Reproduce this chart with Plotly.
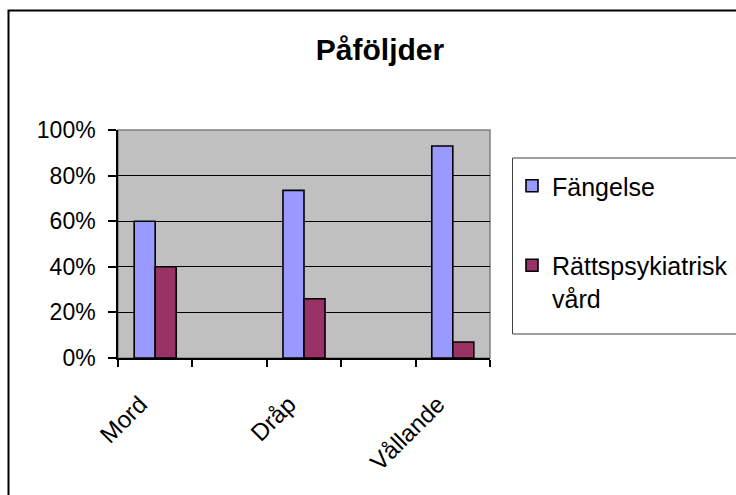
import plotly.graph_objects as go

# ---- data ----
categories = ["Mord", "Dråp", "Vållande"]
axis_categories = ["Mord", " ", "Dråp", "  ", "Vållande"]
fangelse = [0.60, 0.735, 0.93]
rattspsyk = [0.40, 0.26, 0.07]
series_names = ["Fängelse", "Rättspsykiatrisk<br>vård"]
y_ticks = [0, 0.2, 0.4, 0.6, 0.8, 1.0]

W, H = 736, 495
L, R, T, B = 118, 490, 130, 358  # plot area in px

def px(x):
    return (x - L) / (R - L)

def py(y):
    return (B - y) / (B - T)

FONT = "Liberation Sans, Arial, sans-serif"

fig = go.Figure()
fig.add_trace(go.Bar(
    x=categories, y=fangelse, name=series_names[0], legendgroup="a",
    marker=dict(color="#9999FF", line=dict(color="black", width=1.6)),
))
fig.add_trace(go.Bar(
    x=categories, y=rattspsyk, name=series_names[1], legendgroup="b",
    marker=dict(color="#993366", line=dict(color="black", width=1.6)),
))

shapes = [
    # plot area border (grey)
    dict(type="rect", xref="paper", yref="paper", x0=0, x1=1, y0=0, y1=1,
         line=dict(color="#808080", width=1.5), layer="below"),
    # chart area border (cropped)
    dict(type="path", xref="paper", yref="paper",
         path=f"M {px(8.5)},{py(520)} L {px(8.5)},{py(10.5)} L {px(780)},{py(10.5)}",
         line=dict(color="black", width=2)),
    # legend border (cropped)
    dict(type="path", xref="paper", yref="paper",
         path=f"M {px(780)},{py(158)} L {px(512.5)},{py(158)} L {px(512.5)},{py(334)} L {px(780)},{py(334)}",
         line=dict(color="#404040", width=1)),
]

fig.update_layout(
    width=W, height=H,
    margin=dict(l=L, r=W - R, t=T, b=H - B, pad=0, autoexpand=False),
    paper_bgcolor="white", plot_bgcolor="#C0C0C0",
    font=dict(family=FONT, color="black"),
    barmode="group", bargap=0.435, bargroupgap=0,
    title=dict(text="<b>Påföljder</b>", font=dict(size=30, family=FONT, color="black"),
               x=px(380), xref="paper", xanchor="center",
               y=1 - 49 / H, yref="container", yanchor="middle"),
    showlegend=True,
    legend=dict(x=px(512), y=py(163), xanchor="left", yanchor="top",
                font=dict(size=25, family=FONT, color="black"),
                traceorder="grouped", tracegroupgap=44, valign="top",
                bgcolor="rgba(0,0,0,0)", borderwidth=0),
    shapes=shapes,
    xaxis=dict(type="category", categoryorder="array", categoryarray=axis_categories,
               tickson="boundaries", ticks="outside", ticklen=7, tickcolor="black", tickwidth=1.5,
               showline=True, linecolor="black", linewidth=1.5, showgrid=False,
               tickangle=-45, tickfont=dict(size=24, family=FONT, color="black"),
               ticklabelstandoff=21, ticklabelshift=-15,
               range=[-0.5, 4.5], zeroline=False),
    yaxis=dict(range=[0, 1], tickvals=y_ticks, tickformat=".0%",
               ticks="outside", ticklen=8, tickcolor="black", tickwidth=1.5,
               showline=True, linecolor="black", linewidth=1.5,
               showgrid=True, gridcolor="black", gridwidth=1,
               tickfont=dict(size=23, family=FONT, color="black"),
               ticklabelstandoff=8, zeroline=False),
)

fig.write_html("out.html", config={"displayModeBar": False},
               post_script="document.body.style.margin='0px';document.body.style.overflow='hidden';")
